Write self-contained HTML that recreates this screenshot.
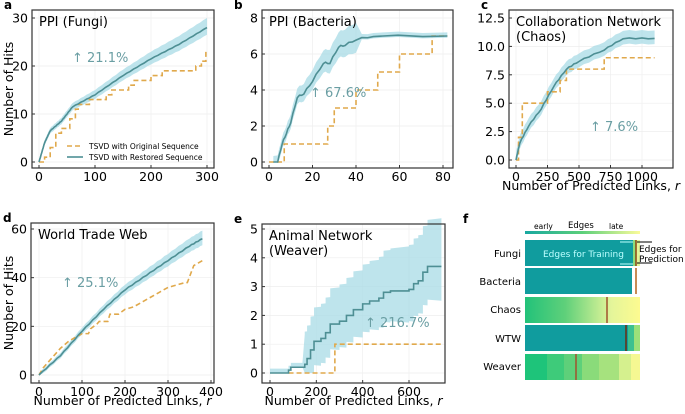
<!DOCTYPE html><html><head><meta charset="utf-8"><style>body{margin:0;background:#fff}svg{font-family:"DejaVu Sans","Liberation Sans",sans-serif}</style></head><body>
<svg id="s" width="685" height="409" xmlns="http://www.w3.org/2000/svg"></svg>
<script>
const S=document.getElementById('s');let h='';
const TEAL='#4e8f94',ORG='#e0a94c',BAND='#a8dbe6';
function panel(o){
 const X=v=>o.x0+(v-o.xa)*(o.x1-o.x0)/(o.xb-o.xa), Y=v=>o.y0+(v-o.ya)*(o.y1-o.y0)/(o.yb-o.ya);
 h+=`<rect x="${o.L}" y="${o.T}" width="${o.R-o.L}" height="${o.B-o.T}" fill="#fff"/>`;
 o.xt.forEach(t=>{h+=`<line x1="${X(t)}" x2="${X(t)}" y1="${o.T}" y2="${o.B}" stroke="#eee" stroke-width="0.7"/><text x="${X(t)}" y="${o.B+13}" font-size="12.5" text-anchor="middle">${t}</text><line x1="${X(t)}" x2="${X(t)}" y1="${o.B}" y2="${o.B-3}" stroke="#333"/>`});
 o.yt.forEach(t=>{h+=`<line x1="${o.L}" x2="${o.R}" y1="${Y(t)}" y2="${Y(t)}" stroke="#eee" stroke-width="0.7"/><text x="${o.L-4}" y="${Y(t)+4.5}" font-size="12.5" text-anchor="end">${o.yf?t.toFixed(1):t}</text><line x1="${o.L}" x2="${o.L+3}" y1="${Y(t)}" y2="${Y(t)}" stroke="#333"/>`});
 const up=o.r.map(p=>[X(p[0]),Y(p[1]+o.bw(p[0],p[1])[1])]), lo=o.r.map(p=>[X(p[0]),Y(Math.max(p[1]-o.bw(p[0],p[1])[0],0))]).reverse();
 h+=`<polygon points="${up.concat(lo).map(p=>p.join(',')).join(' ')}" fill="${BAND}" opacity="0.75"/>`;
 h+=`<polyline points="${o.o.map(p=>X(p[0])+','+Y(p[1])).join(' ')}" fill="none" stroke="${ORG}" stroke-width="1.6" stroke-dasharray="5,3"/>`;
 h+=`<polyline points="${o.r.map(p=>X(p[0])+','+Y(p[1])).join(' ')}" fill="none" stroke="${TEAL}" stroke-width="1.6"/>`;
 h+=`<rect x="${o.L}" y="${o.T}" width="${o.R-o.L}" height="${o.B-o.T}" fill="none" stroke="#333" stroke-width="1.2"/>`;
 o.title.forEach((t,i)=>h+=`<text x="${o.L+7}" y="${o.T+16+i*15}" font-size="13">${t}</text>`);
 h+=`<text x="${o.px}" y="${o.py}" font-size="13" fill="#6a9ea3">↑ ${o.pct}</text>`;
 h+=`<text x="${o.L-28}" y="${o.T-1}" font-size="12" font-weight="bold">${o.lab}</text>`;
 if(o.xl)h+=`<text x="${(o.L+o.R)/2}" y="${o.B+22}" font-size="12.5" text-anchor="middle">Number of Predicted Links, <tspan font-style="italic">r</tspan></text>`;
 if(o.yl)h+=`<text transform="translate(13,${(o.T+o.B)/2}) rotate(-90)" font-size="12.5" text-anchor="middle">Number of Hits</text>`;
}
function steps(pts){let r=[pts[0]];for(let i=1;i<pts.length;i++){r.push([pts[i][0],pts[i-1][1]]);r.push(pts[i]);}return r;}
function smooth(pts,n){let r=[];for(let i=0;i<pts.length-1;i++){for(let k=0;k<n;k++){const t=k/n,x=pts[i][0]+(pts[i+1][0]-pts[i][0])*t,y=pts[i][1]+(pts[i+1][1]-pts[i][1])*t;r.push([x,y+(k%2?0.15:-0.1)*(y>0?1:0)*(pts[1][1]>5?1:0.3)]);}}r.push(pts[pts.length-1]);return r;}
panel({L:32,R:214,T:10,B:168,x0:39,x1:207,xa:0,xb:300,y0:162,y1:18,ya:0,yb:30,xt:[0,100,200,300],yt:[0,10,20,30],
r:smooth([[0,0],[10,4],[20,6.5],[40,8.5],[60,11.5],[100,14],[150,18],[200,21.5],[250,24.5],[300,28]],8),bw:(x,y)=>[0.5+x/300,0.5+x/200],
o:steps([[0,0],[10,1],[20,3],[30,6],[40,7],[55,9],[65,11],[70,12],[90,13],[120,14],[130,15],[160,16],[170,17],[200,18],[220,19],[270,19],[280,20],[290,21],[298,23]]),
title:['PPI (Fungi)'],px:72,py:62,pct:'21.1%',lab:'a',yl:1});
panel({L:262,R:453,T:10,B:168,x0:269,x1:443,xa:0,xb:80,y0:162,y1:18,ya:0,yb:8,xt:[0,20,40,60,80],yt:[0,2,4,6,8],
r:smooth([[2,0],[4,0],[6,1],[8,1.6],[10,2.2],[13,3.6],[16,3.8],[20,4.5],[25,5.5],[28,5.5],[32,6.4],[35,6.5],[40,6.8],[48,7],[82,7]],3),bw:(x,y)=>y>6.9?[0.1,0.2]:[0.2+x/80,0.3+x/60],
o:steps([[0,0],[7,1],[27,2],[30,3],[40,4],[50,5],[60,6],[75,7],[82,7]]),
title:['PPI (Bacteria)'],px:310,py:97,pct:'67.6%',lab:'b'});
panel({L:509,R:673,T:10,B:168,x0:516,x1:642,xa:0,xb:1000,y0:160,y1:18,ya:0,yb:12.5,yf:1,xt:[0,250,500,750,1000],yt:[0,2.5,5,7.5,10,12.5],
r:smooth([[0,0],[30,1.5],[100,3],[200,4.5],[300,6.5],[400,8],[500,8.7],[700,9.7],[850,10.7],[1100,10.7]],5),bw:(x,y)=>[0.5,0.7],
o:steps([[0,0],[20,2],[50,5],[250,6],[350,7],[400,8],[650,8],[700,9],[1100,9]]),
title:['Collaboration Network','(Chaos)'],px:590,py:131,pct:'7.6%',lab:'c',xl:1});
panel({L:31,R:214,T:223,B:383,x0:39,x1:211,xa:0,xb:400,y0:375,y1:229,ya:0,yb:60,xt:[0,100,200,300,400],yt:[0,20,40,60],
r:smooth([[0,0],[50,8],[100,18],[150,27],[200,35],[250,41],[300,47],[350,53],[380,56]],6),bw:(x,y)=>[0.8+x/200,0.8+x/150],
o:[[0,0],[10,3],[30,7],[50,11],[70,14],[90,16],[100,17],[115,17],[120,19],[135,21],[140,22],[160,22],[165,25],[185,25],[200,27],[220,28],[240,30],[260,32],[280,34],[300,36],[320,37],[340,38],[345,38],[360,45],[380,47]],
title:['World Trade Web'],px:62,py:287,pct:'25.1%',lab:'d',xl:1,yl:1});
panel({L:262,R:445,T:224,B:383,x0:270,x1:409,xa:0,xb:600,y0:373,y1:229,ya:0,yb:5,xt:[0,200,400,600],yt:[0,1,2,3,4,5],
r:steps([[0,0],[70,0],[80,0.1],[90,0.2],[140,0.2],[150,0.3],[160,0.5],[175,0.8],[190,1.1],[220,1.2],[240,1.4],[260,1.7],[300,1.8],[330,2],[360,2.2],[400,2.4],[430,2.5],[470,2.6],[490,2.8],[520,2.85],[600,2.9],[620,3.1],[640,3.2],[660,3.5],[680,3.7],[740,3.7]]),
bw:(x,y)=>x<150?[0,0.15]:[Math.min(y,0.7+x/1500),1.0+x/1100],
o:steps([[80,0],[280,1],[740,1]]),
title:['Animal Network','(Weaver)'],px:365,py:327,pct:'216.7%',lab:'e',xl:1});
h+=`<defs><linearGradient id="g"><stop offset="0" stop-color="#18a8a0"/><stop offset="0.5" stop-color="#5cd07a"/><stop offset="1" stop-color="#fbfb9a"/></linearGradient>
<linearGradient id="g2"><stop offset="0" stop-color="#22c27a"/><stop offset="0.35" stop-color="#5fd07a"/><stop offset="0.75" stop-color="#e4f59a"/><stop offset="1" stop-color="#fdfb90"/></linearGradient></defs>`;
h+=`<text x="463" y="223" font-size="12" font-weight="bold">f</text>`;
h+=`<rect x="525" y="231" width="115" height="3" fill="url(#g)"/><text x="534" y="229" font-size="7.5">early</text><text x="568" y="228" font-size="8.5">Edges</text><text x="609" y="229" font-size="7.5">late</text>`;
const C='#109c9e';
h+=`<rect x="525" y="240" width="115" height="26" fill="#8fdc7a"/><rect x="525" y="240" width="108" height="26" fill="${C}"/><rect x="636" y="240" width="4" height="26" fill="#e4f59a"/><line x1="636" x2="636" y1="240" y2="266" stroke="#8b4513" stroke-width="1.5"/>`;
h+=`<text x="543" y="257" font-size="9" fill="#bff">Edges for Training</text><text x="639" y="252" font-size="9">Edges for</text><text x="639" y="262" font-size="9">Prediction</text>`;
h+=`<line x1="620" x2="633" y1="242" y2="242" stroke="#bff"/><line x1="620" x2="633" y1="264" y2="264" stroke="#bff"/><line x1="637" x2="652" y1="242" y2="242" stroke="#000"/><line x1="637" x2="652" y1="263" y2="263" stroke="#000"/>`;
h+=`<rect x="525" y="268" width="107" height="26" fill="${C}"/><line x1="636" x2="636" y1="268" y2="294" stroke="#b5651d" stroke-width="1.5"/>`;
h+=`<rect x="525" y="297" width="115" height="26" fill="url(#g2)"/><line x1="607" x2="607" y1="297" y2="323" stroke="#a0522d" stroke-width="1.5"/>`;
h+=`<rect x="525" y="325" width="115" height="26" fill="#3cc090"/><rect x="525" y="325" width="103" height="26" fill="${C}"/><rect x="634" y="325" width="6" height="26" fill="#9be07a"/><line x1="626" x2="626" y1="325" y2="351" stroke="#6b2d10" stroke-width="1.5"/>`;
['#1ec47a','#3ecb7a','#5ed07a','#8adb7a','#a6e27e','#d5f08e','#f5f892'].forEach((c,i)=>{const w=[22,17,18,17,20,12,9];const x=525+w.slice(0,i).reduce((a,b)=>a+b,0);h+=`<rect x="${x}" y="354" width="${w[i]}" height="26" fill="${c}"/>`});
h+=`<line x1="576" x2="576" y1="354" y2="380" stroke="#a0522d" stroke-width="1.5"/>`;
[['Fungi',257],['Bacteria',285],['Chaos',313],['WTW',342],['Weaver',370]].forEach(a=>h+=`<text x="521" y="${a[1]}" font-size="10" text-anchor="end">${a[0]}</text>`);
h+=`<line x1="67" x2="83" y1="146" y2="146" stroke="${ORG}" stroke-width="1.6" stroke-dasharray="5,3"/><text x="89" y="149" font-size="7.5">TSVD with Original Sequence</text>`;
h+=`<line x1="67" x2="83" y1="157" y2="157" stroke="${TEAL}" stroke-width="1.6"/><text x="89" y="160" font-size="7.5">TSVD with Restored Sequence</text>`;
S.innerHTML=h;
</script></body></html>
